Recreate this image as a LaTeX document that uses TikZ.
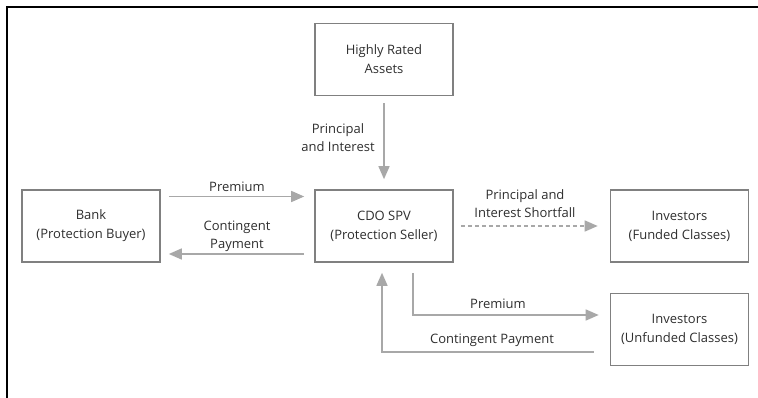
\documentclass[tikz,border=0pt]{standalone}
\usepackage{fontspec}
\setmainfont{Open Sans}
\usetikzlibrary{arrows.meta}
\definecolor{boxgray}{HTML}{808080}
\definecolor{flowgray}{HTML}{A8A8A8}
\definecolor{txtgray}{HTML}{2E2E2E}
\tikzset{
  party/.style={draw=boxgray, line width=1.6pt, minimum width=138pt,
    minimum height=72pt, align=center, inner sep=0pt, text=txtgray,
    font=\fontsize{13}{19}\selectfont},
  flowlabel/.style={align=center, inner sep=0pt, text=txtgray,
    font=\fontsize{13}{18}\selectfont},
  flow/.style={draw=flowgray, line width=1.5pt,
    -{Triangle[length=13pt,width=11pt]}},
}
\begin{document}
\begin{tikzpicture}[x=1pt,y=-1pt]
      \useasboundingbox (0,0) rectangle (758,398);
      \draw[line width=2pt] (7,398) -- (7,7.5) -- (758,7.5);
      \draw
        (384,59.5) node[party] (assets){Highly Rated\\Assets}
        (91,226) node[party] (bank){Bank\\(Protection Buyer)}
        (384,226) node[party] (spv){CDO SPV\\(Protection Seller)}
        (679.5,226) node[party] (funded){Investors\\(Funded Classes)}
        (679.5,329.5) node[party] (unfunded){Investors\\(Unfunded Classes)};
      \draw
        (338,138) node[flowlabel] (lblpi){Principal\\and Interest}
        (237,187) node[flowlabel] (lblprem){Premium}
        (237,236) node[flowlabel] (lblcont){Contingent\\Payment}
        (525,204) node[flowlabel] (lblshort){Principal and\\Interest Shortfall}
        (498,304) node[flowlabel] (lblpremlow){Premium}
        (492,340) node[flowlabel] (lblcontlow){Contingent Payment};
      \begin{scope}[flow]
        \draw ([yshift=-7pt]assets.south) to ([yshift=10pt]spv.north);
        \draw ([xshift=8pt,yshift=29.5pt]bank.east) to ([xshift=-10pt,yshift=29.5pt]spv.west);
        \draw ([xshift=-10pt,yshift=-28pt]spv.west) to ([xshift=8pt,yshift=-28pt]bank.east);
        \draw[dashed, dash pattern=on 4pt off 3pt] ([xshift=7pt]spv.east) to ([xshift=-12pt]funded.west);
        \draw ([xshift=29pt,yshift=-10pt]spv.south) |- ([xshift=-11pt,yshift=14.5pt]unfunded.west);
        \draw ([xshift=-16pt,yshift=-22.5pt]unfunded.west) -| ([xshift=-2pt,yshift=-10pt]spv.south);
      \end{scope}
    \end{tikzpicture}
\end{document}
